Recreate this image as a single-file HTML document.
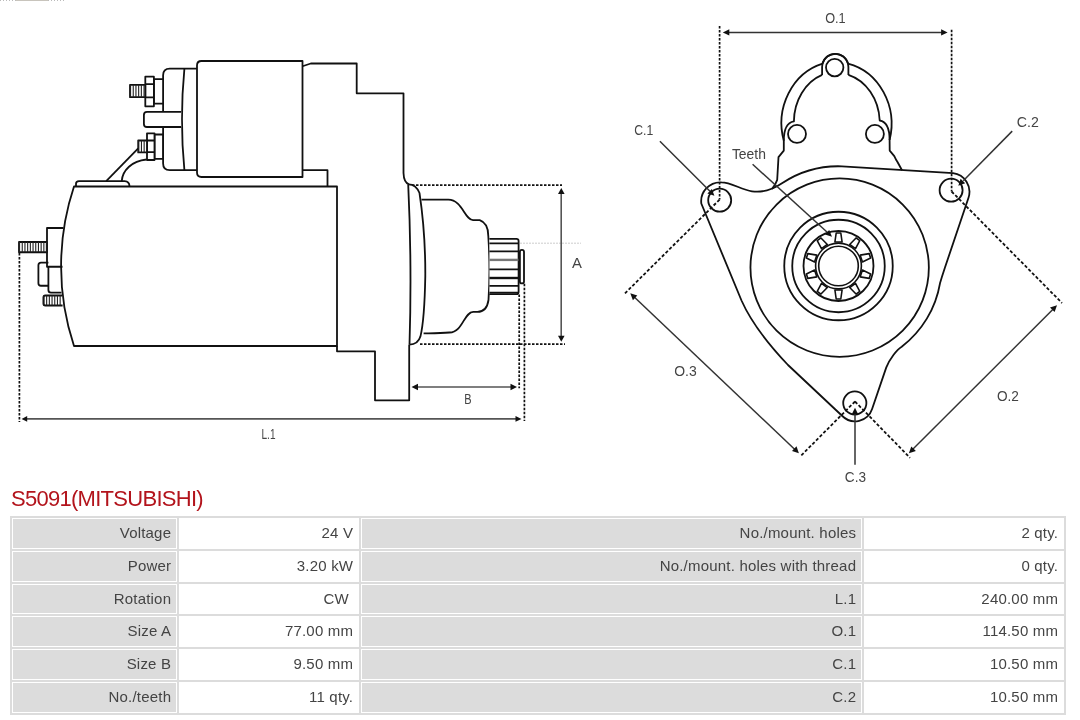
<!DOCTYPE html>
<html><head><meta charset="utf-8">
<style>
html,body{margin:0;padding:0;background:#fff;width:1080px;height:720px;overflow:hidden;}
body{position:relative;font-family:"Liberation Sans",sans-serif;}
#draw{position:absolute;left:0;top:0;filter:grayscale(1);}
#title{filter:grayscale(0);position:absolute;left:11px;top:486px;font-size:22px;line-height:25px;color:#b3141c;white-space:nowrap;letter-spacing:-0.72px;}
table{filter:grayscale(1);position:absolute;left:10px;top:516px;border-collapse:separate;border-spacing:2px;background:#dcdcdc;}
td{border:1px solid #fff;padding:0 4.8px 2px 6px;height:30.83px;box-sizing:border-box;text-align:right;font-size:15px;color:#444;letter-spacing:0.2px;}
td.l{background:#dcdcdc;}
td.v{background:#fff;}
</style></head><body>
<svg id="draw" width="1080" height="500" viewBox="0 0 1080 500">
<g fill="none" stroke="#111" stroke-width="1.8" stroke-linejoin="round" stroke-linecap="butt">
<!-- motor body -->
<path d="M74,186.5 H337 V346 H74 A252.7,252.7 0 0 1 74,186.5 Z" fill="#fff"/>
<!-- base bump -->
<path d="M76,186.5 V183.8 Q76,181.2 79,181.2 H124.5 Q129.5,181.5 129.5,186.5"/>
<!-- wire -->
<path d="M138.2,148.3 L106.2,181.2"/>
<path d="M146.5,159.5 C132,161 122.5,170 121.7,181.2"/>
<!-- left terminals -->
<path d="M63.5,228 H47 V266.75 H62.5"/>
<path d="M48.4,266.75 V290 Q48.4,292.6 51,292.6 H61.5"/>
<path d="M48.4,262.6 H41 Q38.4,262.6 38.4,265.2 V283.2 Q38.4,285.75 41,285.75 H48.4"/>
<rect x="19" y="242" width="27.75" height="10.25"/>
<path d="M19,247.1 H46.75" stroke-width="10.25" stroke-dasharray="1.1 1.6" stroke="#222"/>
<path d="M62,295.5 H45.4 Q43.4,295.5 43.4,297.5 V303.5 Q43.4,305.5 45.4,305.5 H62.6"/>
<path d="M43.4,300.5 H62" stroke-width="10" stroke-dasharray="1.1 1.6" stroke="#222"/>
<!-- solenoid -->
<path d="M197,68.6 H169.8 Q163.1,68.6 163.1,75.3 V163.5 Q163.1,170.2 169.8,170.2 H197"/>
<path d="M184.4,68.6 Q179.5,119.4 184.4,170.2"/>
<path d="M302.5,61 H201.5 Q197,61 197,65.5 V172.5 Q197,177 201.5,177 H302.5 Z" fill="#fff"/>
<path d="M181.1,111.9 H147 Q143.9,111.9 143.9,115 V123.9 Q143.9,127 147,127 H181.1" fill="#fff"/>
<path d="M181.1,111.9 V127" stroke="none"/>
<!-- top terminal -->
<rect x="153.9" y="79.2" width="9.2" height="24.5" fill="#fff"/>
<rect x="145.3" y="76.7" width="8.6" height="29.6" fill="#fff"/>
<path d="M145.3,84.1 H153.9 M145.3,97.4 H153.9"/>
<rect x="130" y="84.8" width="15.3" height="12.4" fill="#fff"/>
<path d="M130,91 H145.3" stroke-width="12.4" stroke-dasharray="1.1 1.6" stroke="#222"/>
<!-- bottom terminal -->
<rect x="154.5" y="134.5" width="8.5" height="24.3" fill="#fff"/>
<rect x="147" y="133.3" width="7.5" height="26.7" fill="#fff"/>
<path d="M147,140.5 H154.5 M147,152.2 H154.5"/>
<rect x="138.2" y="140.5" width="8.8" height="11.9" fill="#fff"/>
<path d="M138.2,146.45 H147" stroke-width="11.9" stroke-dasharray="1.1 1.6" stroke="#222"/>
<!-- drive-end housing -->
<path d="M302.5,66.25 L310.8,63.5 H356.7 V93.3 H403.5 V173 Q403.8,182.5 409,184.4"/>
<path d="M302.5,170.2 H327.5 V186.5"/>
<path d="M337,346 V351.3 H375 V400.3 H409.2 V344.7"/>
<!-- flange -->
<path d="M408.2,184.4 Q412,265 409.5,344.7"/>
<path d="M408.5,184.4 Q416,184.5 419.5,193 Q425.5,233 425.3,276 Q424.5,320 420.4,336.6 Q418,344.5 409.5,344.7"/>
<!-- nose -->
<path d="M421.5,199.7 H448.4 C462,199.7 465,220.2 473,220.2 H479.7 C485,222 488.3,227 488.3,236 Q490.5,270 488.5,300 C487.5,307 484,311.8 477.5,311.8 H473.2 C464,312 463,332 449.5,332.5 C440,333.5 430,333.3 423.6,333.3"/>
<!-- pinion -->
<path d="M489.4,238.8 H516.4 Q518.6,238.8 518.6,241 V291.9 Q518.6,294.1 516.4,294.1 H489.4" fill="#fff"/>
<path d="M489.4,243.3 H518.4 M489.4,251.4 H518.4 M489.4,269.3 H518.4 M489.4,285.8 H518.4 M489.4,292.6 H518.4" />
<path d="M489.4,259.9 H518.4" stroke="#777" stroke-width="2.4"/>
<path d="M489.4,278 H518.4" stroke-width="2.4"/>
<rect x="519.9" y="249.8" width="4.1" height="33.6" rx="2" fill="#fff"/>
</g>
<!-- dimensions left -->
<g fill="none" stroke="#111" stroke-width="1.7" stroke-dasharray="2.5 1.5">
<path d="M412,185.2 H562"/>
<path d="M420,344.2 H565"/>
<path d="M519.2,294.5 V388.3"/>
<path d="M524.4,283.75 V421"/>
<path d="M19.4,253 V422"/>
</g>
<path d="M520.5,243.2 H581" stroke="#999" stroke-width="1" stroke-dasharray="1 2" fill="none"/>
<g stroke="#555" stroke-width="1.6" fill="none">
<path d="M561.2,193 V336"/>
<path d="M418,387 H511"/>
<path d="M26,418.9 H516"/>
</g>
<g fill="#111" stroke="none">
<path d="M561.3,187.9 L558,194 H564.6 Z"/>
<path d="M561.3,341.8 L558,335.7 H564.6 Z"/>
<path d="M411.5,387 L418,383.8 V390.2 Z"/>
<path d="M517,387 L510.5,383.8 V390.2 Z"/>
<path d="M21.6,418.9 L27.2,416 V421.8 Z"/>
<path d="M521.5,418.9 L515.5,416 V421.8 Z"/>
</g>
<g fill="#444" font-family="Liberation Sans, sans-serif" font-size="14.5">
<text x="572.1" y="268.2" textLength="9.9" lengthAdjust="spacingAndGlyphs">A</text>
<text x="464.2" y="404.2" textLength="7.3" lengthAdjust="spacingAndGlyphs">B</text>
<text x="261.5" y="438.7" textLength="14" lengthAdjust="spacingAndGlyphs">L.1</text>
</g>
<g fill="none" stroke="#111" stroke-width="1.8" stroke-linejoin="round">
<!-- flange -->
<path d="M721.5,182.4 C731,182.4 741,189.5 752,191.3 C762,192.8 772,190 782.4,183 A101.5,101.5 0 0 1 842,166.3 L953,173.2 A18.8,18.8 0 0 1 968.5,197.7 L944.8,268 Q941.8,277 940,283.3 A101.5,101.5 0 0 1 901.7,346.7 C897,349.5 889.5,359 886.2,367.6 L872.1,409 A18,18 0 0 1 842.3,416 L788,365 C770,346 751,322 741.5,300.5 L701.3,203.5 A19,19 0 0 1 721.5,182.4 Z"/>
<!-- bracket -->
<path d="M772,189 L775.4,183.9 L777.2,179.8 L778.5,157.1 L783.8,150.6 L783.8,140.8 A56.6,62 0 0 1 822.6,63.6 A13.15,13.15 0 0 1 848,63.6 A56.6,62 0 0 1 889.6,140 L889.7,150.6 L894.3,156.1 L896.4,160.3 L897.5,162 L902,170.2"/>
<path d="M822.1,74.9 V67 A13.15,13.15 0 0 1 848.4,67 V74.9"/>
<path d="M822.1,74.9 A42.5,50 0 0 0 793.9,121.4 C787,122.5 783.8,128 783.8,140.8"/>
<path d="M848.4,74.9 A43,50 0 0 1 879.7,120.5 C886,121.5 889.6,128 889.6,140"/>
<circle cx="834.7" cy="67.6" r="8.7"/>
<circle cx="797" cy="133.9" r="9"/>
<circle cx="874.9" cy="133.9" r="9"/>
<!-- holes -->
<circle cx="719.7" cy="200.2" r="11.5"/>
<circle cx="951.1" cy="190.2" r="11.5"/>
<circle cx="854.8" cy="403" r="11.6"/>
<!-- concentric -->
<circle cx="839.65" cy="267.6" r="89.2"/>
<circle cx="838.5" cy="266" r="54.25"/>
<circle cx="838.5" cy="266" r="46.25"/>
<circle cx="838.5" cy="266" r="35"/>
<circle cx="838.5" cy="266" r="22.9" stroke-width="1.6"/>
<circle cx="838.5" cy="266" r="19.8" stroke-width="1.6"/>
<path d="M834.90,242.00 L836.20,233.00 L840.80,233.00 L842.10,242.00 Z M849.69,244.47 L856.04,237.95 L859.76,240.65 L855.52,248.70 Z M860.21,255.16 L869.17,253.62 L870.60,257.99 L862.44,262.01 Z M862.44,269.99 L870.60,274.01 L869.17,278.38 L860.21,276.84 Z M855.52,283.30 L859.76,291.35 L856.04,294.05 L849.69,287.53 Z M842.10,290.00 L840.80,299.00 L836.20,299.00 L834.90,290.00 Z M827.31,287.53 L820.96,294.05 L817.24,291.35 L821.48,283.30 Z M816.79,276.84 L807.83,278.38 L806.40,274.01 L814.56,269.99 Z M814.56,262.01 L806.40,257.99 L807.83,253.62 L816.79,255.16 Z M821.48,248.70 L817.24,240.65 L820.96,237.95 L827.31,244.47 Z" fill="#fff" stroke-width="1.6"/>
</g>
<g fill="none" stroke="#111" stroke-width="1.7" stroke-dasharray="2.5 1.5">
<path d="M719.6,26 V199.6"/>
<path d="M951.6,29.8 V191.5"/>
</g>
<g fill="none" stroke="#111" stroke-width="1.8" stroke-dasharray="3.2 2">
<path d="M719.6,199.6 L625,293.3"/>
<path d="M951.6,191.5 L1062,303"/>
<path d="M855,401.5 L800,456.7"/>
<path d="M855,401.5 L910,457.8"/>
</g>
<g stroke="#333" stroke-width="1.5" fill="none">
<path d="M728,32.4 H942"/>
<path d="M634.5,297.3 L794.6,449.2"/>
<path d="M1052.8,309.5 L913,449"/>
<path d="M659.9,141.2 L710,191.3"/>
<path d="M1012.2,131.1 L963.3,180.7"/>
<path d="M855,464.7 V413"/>
<path d="M752.6,164.3 L827.5,232.5"/>
</g>
<g fill="#111" stroke="none">
<path d="M722.8,32.4 L729.3,29.2 V35.6 Z"/>
<path d="M947.6,32.4 L941.1,29.2 V35.6 Z"/>
<path d="M630.3,293.3 L637.3,295.6 L632.9,300.2 Z"/>
<path d="M798.9,453.3 L792,450.9 L796.5,446.3 Z"/>
<path d="M1057,305.2 L1054.6,312.1 L1050,307.5 Z"/>
<path d="M908.9,453.3 L911.3,446.4 L915.9,451 Z"/>
<path d="M714.4,195.7 L707.4,193.4 L711.9,188.9 Z"/>
<path d="M958.3,185.7 L960.6,178.8 L965.2,183.3 Z"/>
<path d="M855,407.8 L851.8,414.3 H858.2 Z"/>
<path d="M832,236.7 L825,234.6 L829.2,229.9 Z"/>
</g>
<g fill="#444" font-family="Liberation Sans, sans-serif" font-size="14.5">
<text x="825.2" y="22.5" textLength="20.5" lengthAdjust="spacingAndGlyphs">O.1</text>
<text x="634.2" y="135" textLength="19" lengthAdjust="spacingAndGlyphs">C.1</text>
<text x="1016.8" y="126.5" textLength="22" lengthAdjust="spacingAndGlyphs">C.2</text>
<text x="731.9" y="159.3" textLength="34" lengthAdjust="spacingAndGlyphs">Teeth</text>
<text x="674.2" y="376" textLength="22.5" lengthAdjust="spacingAndGlyphs">O.3</text>
<text x="996.9" y="400.5" textLength="22" lengthAdjust="spacingAndGlyphs">O.2</text>
<text x="844.8" y="481.5" textLength="21.2" lengthAdjust="spacingAndGlyphs">C.3</text>
</g>
</svg>
<div style="position:absolute;left:0;top:0;width:64px;height:1px;background:repeating-linear-gradient(90deg,#bbb 0 1px,#fff 1px 3px);"></div>
<div style="position:absolute;left:16px;top:0;width:32px;height:1px;background:#c8c4bc;"></div>
<div id="title">S5091(MITSUBISHI)</div>
<table>
<tr><td class="l" style="width:165px">Voltage</td><td class="v" style="width:180px">24 V</td><td class="l" style="width:501px">No./mount. holes</td><td class="v" style="width:200px">2 qty.</td></tr>
<tr><td class="l">Power</td><td class="v">3.20 kW</td><td class="l">No./mount. holes with thread</td><td class="v">0 qty.</td></tr>
<tr><td class="l">Rotation</td><td class="v">CW&nbsp;</td><td class="l">L.1</td><td class="v">240.00 mm</td></tr>
<tr><td class="l">Size A</td><td class="v">77.00 mm</td><td class="l">O.1</td><td class="v">114.50 mm</td></tr>
<tr><td class="l">Size B</td><td class="v">9.50 mm</td><td class="l">C.1</td><td class="v">10.50 mm</td></tr>
<tr><td class="l">No./teeth</td><td class="v">11 qty.</td><td class="l">C.2</td><td class="v">10.50 mm</td></tr>
</table>
</body></html>
